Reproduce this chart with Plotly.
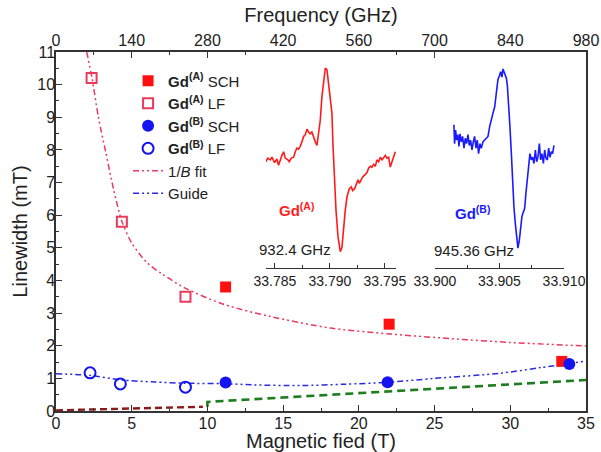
import plotly.graph_objects as go

FONT = "Liberation Sans, Arial, sans-serif"

# ---------------- main panel data (field in T, linewidth in mT) ----------------
gdA_sch_field = [11.2, 22.0, 33.4]
gdA_sch_lw = [3.80, 2.66, 1.52]
gdA_lf_field = [2.35, 4.35, 8.55]
gdA_lf_lw = [10.20, 5.80, 3.50]
gdB_sch_field = [11.2, 21.9, 33.9]
gdB_sch_lw = [0.87, 0.88, 1.44]
gdB_lf_field = [2.25, 4.25, 8.55]
gdB_lf_lw = [1.17, 0.83, 0.73]

fit_field = [2.03, 2.38, 2.8, 3.3, 3.8, 4.36, 5.0, 6.0, 7.0, 8.6, 11.07, 14.2, 18.15, 22.06, 26.0, 30.0, 35.0]
fit_lw = [11.0, 10.2, 9.0, 7.9, 6.8, 5.8, 5.15, 4.55, 4.2, 3.75, 3.27, 2.89, 2.54, 2.36, 2.22, 2.1, 1.99]

guide_field = [0.0, 2.3, 4.3, 6.5, 8.6, 11.1, 13.0, 16.2, 19.0, 21.9, 25.0, 29.4, 32.0, 35.0]
guide_lw = [1.14, 1.09, 0.95, 0.89, 0.85, 0.84, 0.80, 0.78, 0.82, 0.88, 1.00, 1.16, 1.33, 1.53]

low_field = [0.0, 9.7]
low_lw = [0.02, 0.13]
high_field = [10.0, 10.0, 35.0]
high_lw = [0.13, 0.28, 0.95]

freq_ticks = [0, 140, 280, 420, 560, 700, 840, 980]

# ---------------- inset spectra (field in T, intensity in a.u.) ----------------
specA_field = [33.78418, 33.78436, 33.78458, 33.78473, 33.78497, 33.78518, 33.78533, 33.78548, 33.78564, 33.78579,
               33.78594, 33.78618, 33.78630, 33.78648, 33.78670, 33.78685, 33.78700, 33.78715, 33.78730, 33.78745,
               33.78761, 33.78776, 33.78791, 33.78806, 33.78821, 33.78836, 33.78852, 33.78867, 33.78882, 33.78897,
               33.78912, 33.78927, 33.78942, 33.78958, 33.78973, 33.78988, 33.79003, 33.79018, 33.79027, 33.79039,
               33.79055, 33.79073, 33.79094, 33.79109, 33.79124, 33.79139, 33.79155, 33.79176, 33.79194, 33.79206,
               33.79224, 33.79236, 33.79255, 33.79267, 33.79285, 33.79297, 33.79315, 33.79336, 33.79352, 33.79367,
               33.79382, 33.79397, 33.79412, 33.79427, 33.79442, 33.79458, 33.79473, 33.79488, 33.79503, 33.79518,
               33.79533, 33.79548, 33.79564, 33.79579, 33.79594]
specA_int = [-0.04, 0.00, -0.02, 0.01, -0.05, -0.01, -0.08, -0.02, 0.03, 0.07,
             0.00, -0.02, -0.04, 0.00, 0.01, 0.07, 0.11, 0.10, 0.13, 0.18,
             0.24, 0.26, 0.32, 0.29, 0.27, 0.29, 0.22, 0.18, 0.14, 0.27,
             0.42, 0.68, 0.87, 1.00, 0.98, 0.83, 0.68, 0.50, 0.16, -0.21,
             -0.58, -0.87, -1.04, -0.99, -0.76, -0.58, -0.43, -0.34, -0.32, -0.36,
             -0.34, -0.30, -0.24, -0.28, -0.23, -0.21, -0.19, -0.16, -0.11, -0.09,
             -0.10, -0.07, -0.09, -0.02, -0.04, 0.01, -0.02, 0.00, 0.03, 0.00,
             0.01, -0.10, -0.04, 0.01, 0.07]

specB_field = [33.90147, 33.90152, 33.90160, 33.90168, 33.90178, 33.90186, 33.90194, 33.90204, 33.90214, 33.90225,
               33.90235, 33.90245, 33.90256, 33.90266, 33.90276, 33.90287, 33.90297, 33.90307, 33.90318, 33.90328,
               33.90338, 33.90349, 33.90359, 33.90372, 33.90385, 33.90398, 33.90411, 33.90424, 33.90437, 33.90450,
               33.90463, 33.90475, 33.90488, 33.90501, 33.90509, 33.90519, 33.90527, 33.90540, 33.90553, 33.90561,
               33.90571, 33.90581, 33.90592, 33.90602, 33.90612, 33.90623, 33.90633, 33.90643, 33.90654, 33.90664,
               33.90674, 33.90685, 33.90695, 33.90705, 33.90716, 33.90726, 33.90736, 33.90747, 33.90757, 33.90767,
               33.90778, 33.90788, 33.90798, 33.90809, 33.90819, 33.90829, 33.90840, 33.90850, 33.90860, 33.90871,
               33.90881, 33.90891, 33.90902, 33.90912, 33.90922]
specB_int = [0.37, 0.16, 0.31, 0.20, 0.26, 0.13, 0.27, 0.18, 0.24, 0.11,
             0.22, 0.16, 0.26, 0.14, 0.20, 0.09, 0.18, 0.24, 0.11, 0.20,
             0.05, 0.16, 0.11, 0.18, 0.20, 0.22, 0.24, 0.35, 0.44, 0.50,
             0.57, 0.72, 0.87, 0.92, 0.96, 0.90, 0.99, 0.94, 0.89, 0.81,
             0.61, 0.35, 0.05, -0.28, -0.54, -0.73, -0.87, -1.00, -0.91, -0.76,
             -0.65, -0.60, -0.56, -0.39, -0.21, -0.02, 0.05, -0.02, 0.01, -0.06,
             0.09, -0.04, 0.01, 0.16, -0.02, 0.05, -0.06, 0.09, 0.00, -0.02,
             0.11, 0.01, 0.07, 0.05, 0.14]

insetA_ticks = [33.785, 33.790, 33.795]
insetB_ticks = [33.900, 33.905, 33.910]

RED = "#ff1010"
PINK = "#ea3a5e"
BLUE = "#1414f0"
AXC = "#333333"

fig = go.Figure()

# inset spectra
fig.add_trace(go.Scatter(x=specA_field, y=specA_int, xaxis="x3", yaxis="y3", mode="lines",
                         line=dict(color="#ff1a1a", width=1.6), showlegend=False, hoverinfo="skip"))
fig.add_trace(go.Scatter(x=specB_field, y=specB_int, xaxis="x4", yaxis="y4", mode="lines",
                         line=dict(color="#1a1aff", width=1.6), showlegend=False, hoverinfo="skip"))

# invisible trace to carry the top frequency axis
fig.add_trace(go.Scatter(x=[freq_ticks[0], freq_ticks[-1]], y=[-5, -5], xaxis="x2", yaxis="y",
                         mode="markers", marker=dict(opacity=0), showlegend=False, hoverinfo="skip"))

# dashed reference lines
fig.add_trace(go.Scatter(x=low_field, y=low_lw, mode="lines",
                         line=dict(color="#8c1a1a", width=2.4, dash="7px,4px"), showlegend=False))
fig.add_trace(go.Scatter(x=high_field, y=high_lw, mode="lines",
                         line=dict(color="#1e7d1e", width=2.6, dash="8px,5px"), showlegend=False))

# fit and guide
fig.add_trace(go.Scatter(x=fit_field, y=fit_lw, mode="lines", name="1/<i>B</i> fit", legendrank=5,
                         line=dict(color=PINK, width=1.5, dash="6px,3px,2px,3px,2px,3px", shape="spline", smoothing=0.8)))
fig.add_trace(go.Scatter(x=guide_field, y=guide_lw, mode="lines", name="Guide", legendrank=6,
                         line=dict(color="#2a2ae0", width=1.5, dash="6px,3px,2px,3px,2px,3px", shape="spline", smoothing=0.8)))

# data points
fig.add_trace(go.Scatter(x=gdA_lf_field, y=gdA_lf_lw, mode="markers", name="<b>Gd<sup>(A)</sup></b> LF", legendrank=2,
                         marker=dict(symbol="square-open", size=10, color=PINK, line=dict(width=2, color=PINK))))
fig.add_trace(go.Scatter(x=gdB_lf_field, y=gdB_lf_lw, mode="markers", name="<b>Gd<sup>(B)</sup></b> LF", legendrank=4,
                         marker=dict(symbol="circle-open", size=11, color=BLUE, line=dict(width=2, color=BLUE))))
fig.add_trace(go.Scatter(x=gdA_sch_field, y=gdA_sch_lw, mode="markers", name="<b>Gd<sup>(A)</sup></b> SCH", legendrank=1,
                         marker=dict(symbol="square", size=11, color=RED)))
fig.add_trace(go.Scatter(x=gdB_sch_field, y=gdB_sch_lw, mode="markers", name="<b>Gd<sup>(B)</sup></b> SCH", legendrank=3,
                         marker=dict(symbol="circle", size=12, color=BLUE)))

axis_common = dict(showgrid=False, zeroline=False, showline=True, linecolor=AXC, linewidth=1.5, automargin=False,
                   ticks="inside", tickcolor=AXC, tickwidth=1.3, tickfont=dict(size=16, color="#222"))

ann_common = dict(xref="paper", yref="paper", xanchor="center", yanchor="middle", showarrow=False)

fig.update_layout(
    width=601, height=452,
    margin=dict(l=56, r=15, t=52, b=41),
    paper_bgcolor="white", plot_bgcolor="white",
    font=dict(family=FONT, size=16, color="#222"),
    showlegend=True,
    legend=dict(x=0.136, y=0.965, xanchor="left", yanchor="top", bgcolor="rgba(0,0,0,0)",
                font=dict(size=15, color="#222"), tracegroupgap=0),
    xaxis=dict(range=[0, 35], tick0=0, dtick=5, ticklen=6, mirror=False, ticklabelstandoff=-3,
               minor=dict(ticks="inside", ticklen=3, dtick=2.5, tickcolor=AXC),
               title=dict(text="Magnetic fied (T)", font=dict(size=20), standoff=6),
               **axis_common),
    xaxis2=dict(overlaying="x", side="top", anchor="y", range=[0, 980], tickvals=freq_ticks, ticklen=6,
                ticklabelstandoff=-2,
                minor=dict(ticks="inside", ticklen=3, dtick=70, tickcolor=AXC),
                title=dict(text="Frequency (GHz)", font=dict(size=20), standoff=4),
                **axis_common),
    yaxis=dict(range=[0, 11], tick0=0, dtick=1, ticklen=6, mirror=True, ticklabelstandoff=-4,
               minor=dict(ticks="inside", ticklen=3, dtick=0.5, tickcolor=AXC),
               title=dict(text="Linewidth (mT)", font=dict(size=20), standoff=4),
               **axis_common),
    xaxis3=dict(domain=[0.396, 0.6415], anchor="y3", range=[33.78418, 33.79600],
                tickvals=insetA_ticks, ticktext=["%.3f" % v for v in insetA_ticks], automargin=False,
                showgrid=False, zeroline=False, showline=True, linecolor=AXC, linewidth=1.3,
                ticks="inside", ticklen=5, tickcolor=AXC, tickwidth=1.2, tickfont=dict(size=14, color="#222"),
                minor=dict(ticks="inside", ticklen=3, tickvals=[33.7875, 33.7925], tickcolor=AXC)),
    yaxis3=dict(domain=[0.398, 1.0], anchor="x3", range=[-1.222, 1.178], visible=False),
    xaxis4=dict(domain=[0.715, 0.9585], anchor="y4", range=[33.900, 33.910],
                tickvals=insetB_ticks, ticktext=["%.3f" % v for v in insetB_ticks], automargin=False,
                showgrid=False, zeroline=False, showline=True, linecolor=AXC, linewidth=1.3,
                ticks="inside", ticklen=5, tickcolor=AXC, tickwidth=1.2, tickfont=dict(size=14, color="#222"),
                minor=dict(ticks="inside", ticklen=3, tickvals=[33.9025, 33.9075], tickcolor=AXC)),
    yaxis4=dict(domain=[0.398, 1.0], anchor="x4", range=[-1.222, 1.178], visible=False),
    annotations=[
        dict(text="<b>Gd<sup>(A)</sup></b>", x=0.453, y=0.56, font=dict(size=15, color="#ff2020"), **ann_common),
        dict(text="932.4 GHz", x=0.451, y=0.451, font=dict(size=15, color="#222"), **ann_common),
        dict(text="<b>Gd<sup>(B)</sup></b>", x=0.785, y=0.554, font=dict(size=15, color="#1a1aff"), **ann_common),
        dict(text="945.36 GHz", x=0.789, y=0.446, font=dict(size=15, color="#222"), **ann_common),
    ],
)

fig.write_html("out.html", config={"displayModeBar": False},
               post_script="document.body.style.margin='0';")
